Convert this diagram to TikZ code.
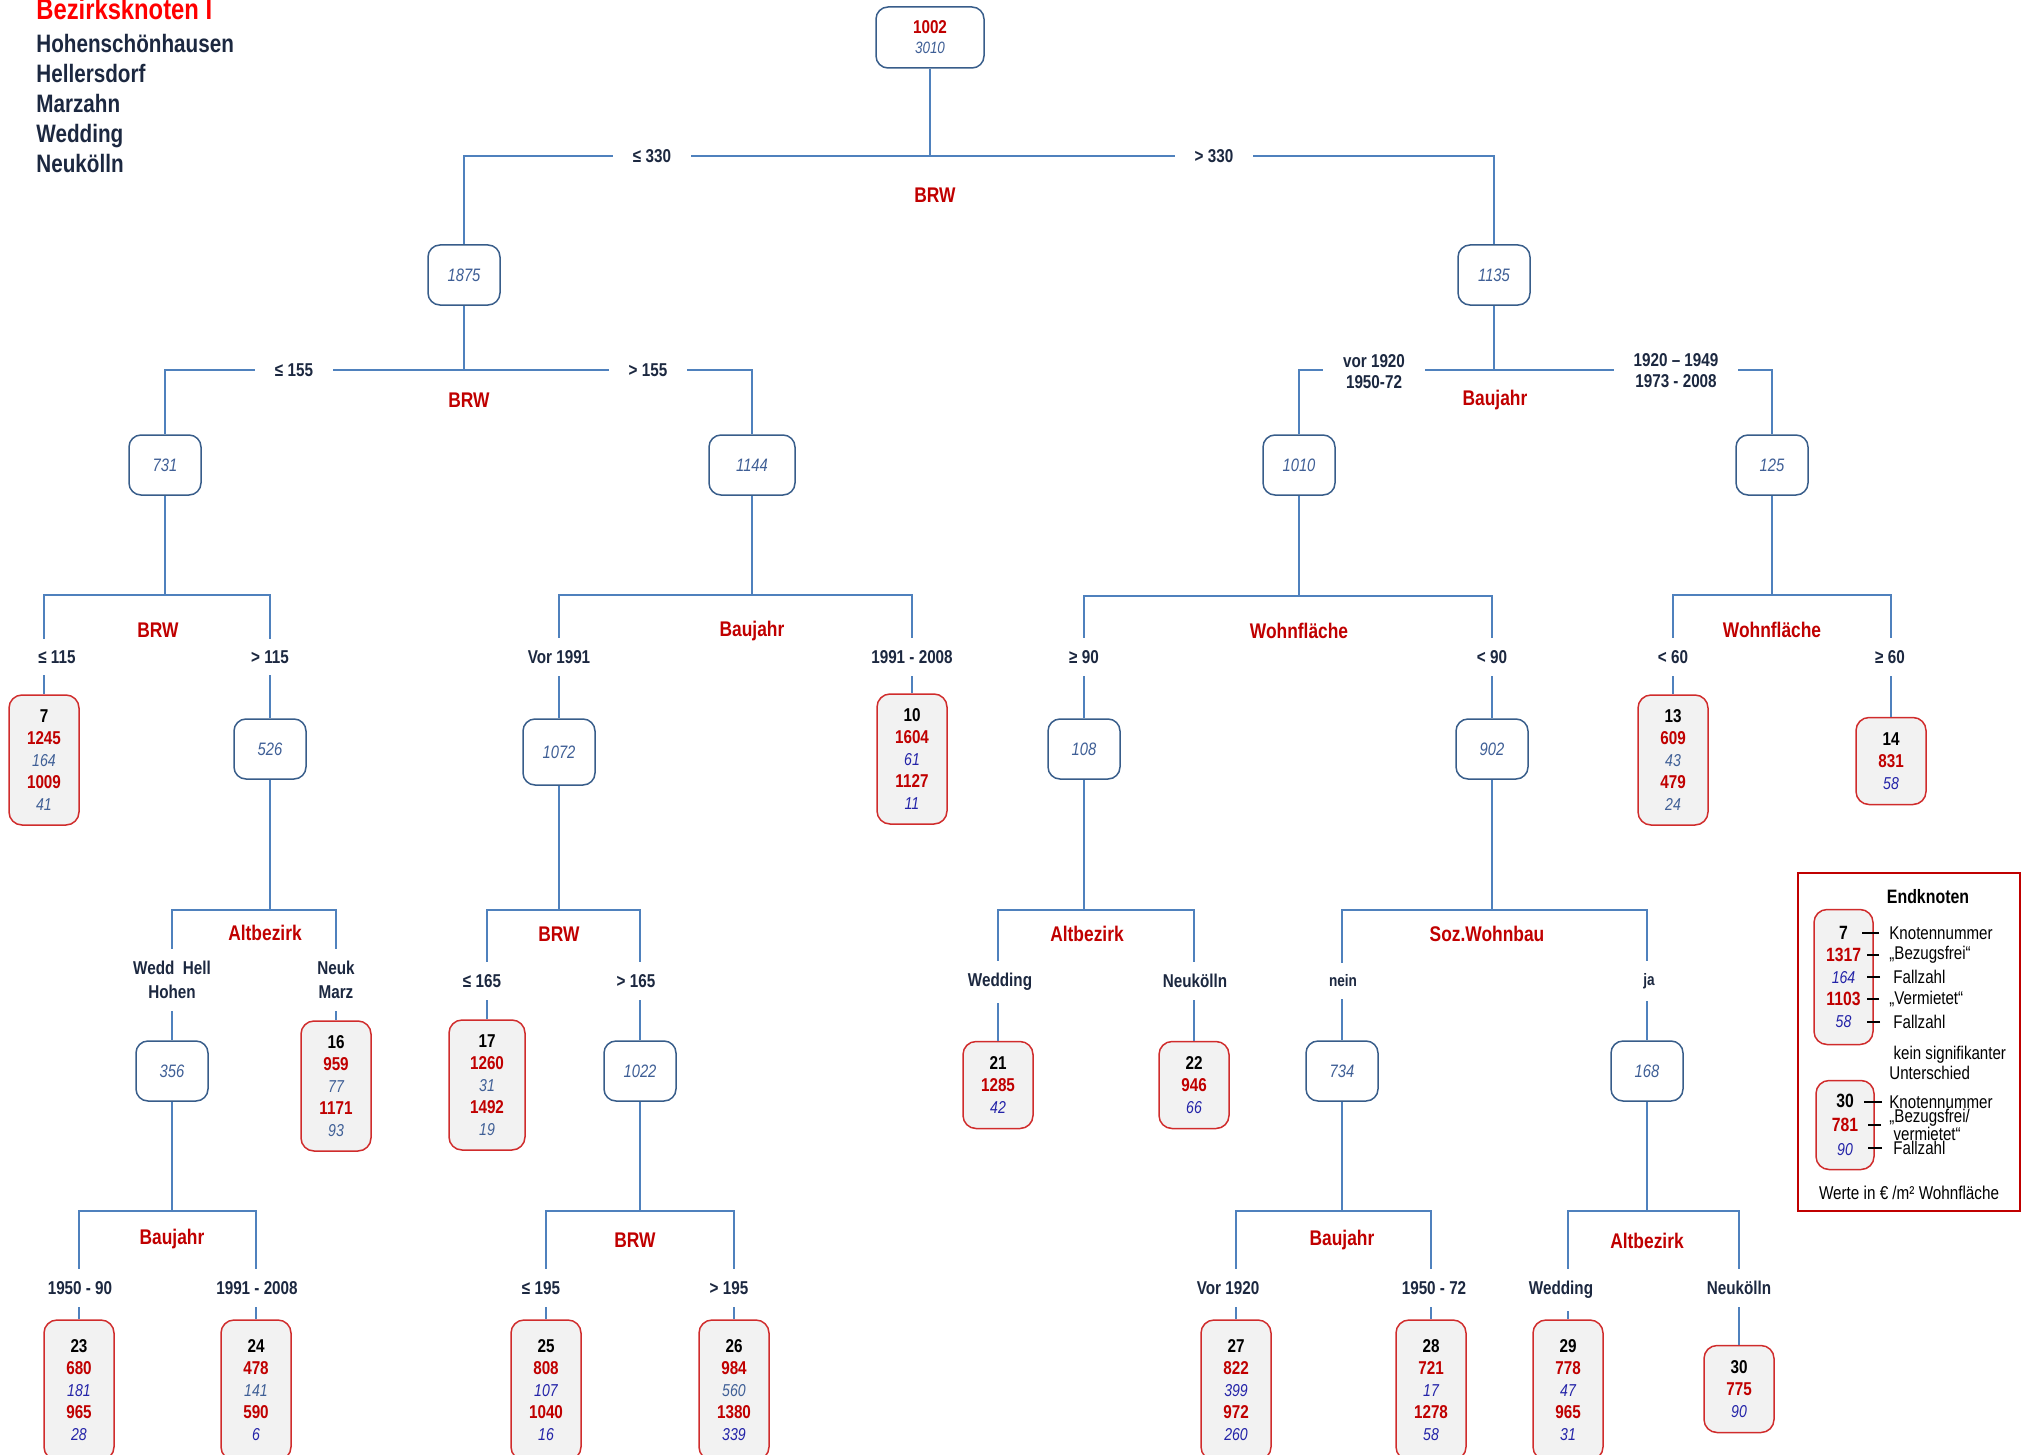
\documentclass[tikz,border=0pt]{standalone}
\usepackage{fontspec}
\setmainfont{Liberation Sans}[FakeStretch=0.82]
\usetikzlibrary{positioning, calc}

\definecolor{linkblue}{HTML}{4F81BD}
\definecolor{boxblue}{HTML}{385D8A}
\definecolor{numsteel}{HTML}{3F5F96}
\definecolor{numblue}{HTML}{2323A8}
\definecolor{valred}{HTML}{C00000}
\definecolor{titlered}{HTML}{FF0000}
\definecolor{labnavy}{HTML}{1C2840}
\definecolor{leafred}{HTML}{D02C2C}
\definecolor{leafgray}{HTML}{F2F2F2}

\newcommand{\knr}[1]{{\color{black}#1}}
\newcommand{\wert}[1]{{\color{valred}\bfseries\upshape #1}}
\newcommand{\fzs}[1]{{\fontsize{8.6}{11}\selectfont\mdseries\itshape\color{numsteel}#1}}
\newcommand{\fzb}[1]{{\fontsize{8.6}{11}\selectfont\mdseries\itshape\color{numblue}#1}}

\begin{document}
\begin{tikzpicture}[x=0.5pt,y=-0.5pt,
    conn/.style={draw=linkblue,line width=1pt},
    elbow/.style={to path={-| (\tikztotarget)}},
    knot/.style={draw=boxblue,line width=0.75pt,rounded corners=6pt,fill=white,
        minimum width=36pt,minimum height=30pt,align=center,text=numsteel,
        font=\fontsize{9}{10}\selectfont\itshape},
    leaf/.style={draw=leafred,line width=0.75pt,rounded corners=6.5pt,fill=leafgray,
        minimum width=35pt,align=center,font=\fontsize{9.3}{11}\selectfont\bfseries},
    leaf5/.style={leaf,minimum height=65pt},
    leaf3/.style={leaf,minimum height=43.5pt},
    cond/.style={fill=white,align=center,inner xsep=10pt,inner ysep=6pt,text=labnavy,
        font=\fontsize{9.3}{11}\selectfont\bfseries},
    attr/.style={text=valred,font=\fontsize{10.6}{12}\selectfont\bfseries},
    keytext/.style={anchor=west,inner sep=0pt,font=\fontsize{9.2}{10}\selectfont},
    tick/.style={draw=black,line width=0.6pt},
    ]
    \useasboundingbox (0,0) rectangle (2033,1455);

    % title
    \node[anchor=base west,inner sep=0pt,text=titlered,font=\fontsize{14.5}{16}\selectfont\bfseries]
        (title) at (36,20) {Bezirksknoten I};
    \node[anchor=north west,inner sep=0pt,align=left,text=labnavy,font=\fontsize{12.6}{15}\selectfont\bfseries]
        (bezirke) at (36,34) {Hohenschönhausen\\Hellersdorf\\Marzahn\\Wedding\\Neukölln};

    % inner nodes
    \node[knot,minimum width=54pt,minimum height=30.5pt] (n1002) at (930,37.5)
        {\wert{\fontsize{9.3}{10}\selectfont 1002}\\{\fontsize{8.2}{10}\selectfont 3010}};
    \node[knot] (n1875) at (464,275) {1875};
    \node[knot] (n1135) at (1494,275) {1135};
    \node[knot] (n731) at (165,465) {731};
    \node[knot,minimum width=43pt] (n1144) at (752,465) {1144};
    \node[knot] (n1010) at (1299,465) {1010};
    \node[knot] (n125) at (1772,465) {125};
    \node[knot] (n526) at (270,749) {526};
    \node[knot,minimum height=33pt] (n1072) at (559,752) {1072};
    \node[knot] (n108) at (1084,749) {108};
    \node[knot] (n902) at (1492,749) {902};
    \node[knot] (n356) at (172,1071) {356};
    \node[knot] (n1022) at (640,1071) {1022};
    \node[knot] (n734) at (1342,1071) {734};
    \node[knot] (n168) at (1647,1071) {168};

    % end nodes
    \node[leaf5] (l7) at (44,760) {\knr{7}\\\wert{1245}\\\fzs{164}\\\wert{1009}\\\fzs{41}};
    \node[leaf5] (l10) at (912,759) {\knr{10}\\\wert{1604}\\\fzb{61}\\\wert{1127}\\\fzb{11}};
    \node[leaf5] (l13) at (1673,760) {\knr{13}\\\wert{609}\\\fzs{43}\\\wert{479}\\\fzs{24}};
    \node[leaf3] (l14) at (1891,761) {\knr{14}\\\wert{831}\\\fzb{58}};
    \node[leaf5] (l16) at (336,1086) {\knr{16}\\\wert{959}\\\fzs{77}\\\wert{1171}\\\fzs{93}};
    \node[leaf5,minimum width=38pt] (l17) at (487,1085) {\knr{17}\\\wert{1260}\\\fzs{31}\\\wert{1492}\\\fzs{19}};
    \node[leaf3] (l21) at (998,1085) {\knr{21}\\\wert{1285}\\\fzb{42}};
    \node[leaf3] (l22) at (1194,1085) {\knr{22}\\\wert{946}\\\fzb{66}};
    \node[leaf5,minimum height=70pt] (l23) at (79,1390) {\knr{23}\\\wert{680}\\\fzb{181}\\\wert{965}\\\fzb{28}};
    \node[leaf5,minimum height=70pt] (l24) at (256,1390) {\knr{24}\\\wert{478}\\\fzs{141}\\\wert{590}\\\fzb{6}};
    \node[leaf5,minimum height=70pt] (l25) at (546,1390) {\knr{25}\\\wert{808}\\\fzb{107}\\\wert{1040}\\\fzb{16}};
    \node[leaf5,minimum height=70pt] (l26) at (734,1390) {\knr{26}\\\wert{984}\\\fzs{560}\\\wert{1380}\\\fzb{339}};
    \node[leaf5,minimum height=70pt] (l27) at (1236,1390) {\knr{27}\\\wert{822}\\\fzb{399}\\\wert{972}\\\fzb{260}};
    \node[leaf5,minimum height=70pt] (l28) at (1431,1390) {\knr{28}\\\wert{721}\\\fzb{17}\\\wert{1278}\\\fzb{58}};
    \node[leaf5,minimum height=70pt] (l29) at (1568,1390) {\knr{29}\\\wert{778}\\\fzb{47}\\\wert{965}\\\fzb{31}};
    \node[leaf3] (l30) at (1739,1389) {\knr{30}\\\wert{775}\\\fzb{90}};

    % split points
    \coordinate (s0) at (930,156);
    \coordinate (s1) at (464,370);
    \coordinate (s2) at (1494,370);
    \coordinate (s3) at (165,595);
    \coordinate (s4) at (752,595);
    \coordinate (s5) at (1299,596);
    \coordinate (s6) at (1772,595);
    \coordinate (s7) at (270,910);
    \coordinate (s8) at (559,910);
    \coordinate (s9) at (1084,910);
    \coordinate (s10) at (1492,910);
    \coordinate (s11) at (172,1211);
    \coordinate (s12) at (640,1211);
    \coordinate (s13) at (1342,1211);
    \coordinate (s14) at (1647,1211);

    \path[conn]
    (n1002) edge (s0)
    (s0) edge[elbow] (n1875)
    (s0) edge[elbow] (n1135)
    (n1875) edge (s1)
    (s1) edge[elbow] (n731)
    (s1) edge[elbow] (n1144)
    (n1135) edge (s2)
    (s2) edge[elbow] (n1010)
    (s2) edge[elbow] (n125)
    (n731) edge (s3)
    (s3) edge[elbow] (l7)
    (s3) edge[elbow] (n526)
    (n1144) edge (s4)
    (s4) edge[elbow] (n1072)
    (s4) edge[elbow] (l10)
    (n1010) edge (s5)
    (s5) edge[elbow] (n108)
    (s5) edge[elbow] (n902)
    (n125) edge (s6)
    (s6) edge[elbow] (l13)
    (s6) edge[elbow] (l14)
    (n526) edge (s7)
    (s7) edge[elbow] (n356)
    (s7) edge[elbow] (l16)
    (n1072) edge (s8)
    (s8) edge[elbow] (l17)
    (s8) edge[elbow] (n1022)
    (n108) edge (s9)
    (s9) edge[elbow] (l21)
    (s9) edge[elbow] (l22)
    (n902) edge (s10)
    (s10) edge[elbow] (n734)
    (s10) edge[elbow] (n168)
    (n356) edge (s11)
    (s11) edge[elbow] (l23)
    (s11) edge[elbow] (l24)
    (n1022) edge (s12)
    (s12) edge[elbow] (l25)
    (s12) edge[elbow] (l26)
    (n734) edge (s13)
    (s13) edge[elbow] (l27)
    (s13) edge[elbow] (l28)
    (n168) edge (s14)
    (s14) edge[elbow] (l29)
    (s14) edge[elbow] (l30)
    ;

    % split conditions
    \node[cond] (c1a) at (652,156) {≤ 330};
    \node[cond] (c1b) at (1214,156) {> 330};
    \node[cond] (c2a) at (294,370) {≤ 155};
    \node[cond] (c2b) at (648,370) {> 155};
    \node[cond,font=\fontsize{9.3}{10.5}\selectfont\bfseries] (c3a) at (1374,372) {vor 1920\\1950-72};
    \node[cond,font=\fontsize{9.3}{10.5}\selectfont\bfseries] (c3b) at (1676,371) {1920 – 1949\\1973 - 2008};
    \node[cond] (c4a) at (57,657) {≤ 115};
    \node[cond] (c4b) at (270,657) {> 115};
    \node[cond] (c5a) at (559,657) {Vor 1991};
    \node[cond] (c5b) at (912,657) {1991 - 2008};
    \node[cond] (c6a) at (1084,657) {≥ 90};
    \node[cond] (c6b) at (1492,657) {< 90};
    \node[cond] (c7a) at (1673,657) {< 60};
    \node[cond] (c7b) at (1890,657) {≥ 60};
    \node[cond,font=\fontsize{9.3}{12}\selectfont\bfseries] (c8a) at (172,980) {Wedd~~Hell\\Hohen};
    \node[cond,font=\fontsize{9.3}{12}\selectfont\bfseries] (c8b) at (336,980) {Neuk\\Marz};
    \node[cond] (c9a) at (482,981) {≤ 165};
    \node[cond] (c9b) at (636,981) {> 165};
    \node[cond] (c10a) at (1000,982) {Wedding};
    \node[cond] (c10b) at (1195,981) {Neukölln};
    \node[cond,font=\fontsize{8.3}{10}\selectfont\bfseries] (c11a) at (1343,981) {nein};
    \node[cond,font=\fontsize{8.3}{10}\selectfont\bfseries] (c11b) at (1649,981) {ja};
    \node[cond] (c12a) at (80,1288) {1950 - 90};
    \node[cond] (c12b) at (257,1288) {1991 - 2008};
    \node[cond] (c13a) at (541,1288) {≤ 195};
    \node[cond] (c13b) at (729,1288) {> 195};
    \node[cond] (c14a) at (1228,1288) {Vor 1920};
    \node[cond] (c14b) at (1434,1288) {1950 - 72};
    \node[cond] (c15a) at (1561,1290) {Wedding};
    \node[cond] (c15b) at (1739,1288) {Neukölln};

    % split attributes
    \node[attr] (a0) at (935,195) {BRW};
    \node[attr] (a1) at (469,400) {BRW};
    \node[attr] (a2) at (1495,400) {Baujahr};
    \node[attr] (a3) at (158,630) {BRW};
    \node[attr] (a4) at (752,631) {Baujahr};
    \node[attr] (a5) at (1299,631) {Wohnfläche};
    \node[attr] (a6) at (1772,630) {Wohnfläche};
    \node[attr] (a7) at (265,933) {Altbezirk};
    \node[attr] (a8) at (559,934) {BRW};
    \node[attr] (a9) at (1087,934) {Altbezirk};
    \node[attr] (a10) at (1487,934) {Soz.Wohnbau};
    \node[attr] (a11) at (172,1239) {Baujahr};
    \node[attr] (a12) at (635,1240) {BRW};
    \node[attr] (a13) at (1342,1240) {Baujahr};
    \node[attr] (a14) at (1647,1241) {Altbezirk};

    % legend
    \node[draw=valred,line width=1pt,minimum width=111pt,minimum height=169pt] (key) at (1909,1042) {};
    \node[font=\fontsize{9.7}{10}\selectfont\bfseries] (keyhead) at (1928,897) {Endknoten};
    \node[leaf,minimum width=29.5pt,minimum height=67.5pt,font=\fontsize{9.6}{11}\selectfont\bfseries]
        (k7) at (1843.5,977) {\knr{7}\\\wert{1317}\\\fzb{164}\\\wert{1103}\\\fzb{58}};
    \node[leaf,minimum width=29pt,minimum height=44.5pt,font=\fontsize{9.6}{12}\selectfont\bfseries]
        (k30) at (1845,1125) {\knr{30}\\\wert{781}\\\fzb{90}};
    \node[keytext] (t1) at (1889,933) {Knotennummer};
    \node[keytext] (t2) at (1889,955) {„Bezugsfrei“};
    \node[keytext] (t3) at (1893,977) {Fallzahl};
    \node[keytext] (t4) at (1889,999) {„Vermietet“};
    \node[keytext] (t5) at (1893,1022) {Fallzahl};
    \node[keytext,align=left,font=\fontsize{9.2}{9.8}\selectfont] (t6) at (1889,1063) {\ kein signifikanter\\Unterschied};
    \node[keytext] (t7) at (1889,1102) {Knotennummer};
    \node[keytext,align=left,font=\fontsize{9.2}{8.6}\selectfont] (t8) at (1889,1125) {„Bezugsfrei/\\\ vermietet“};
    \node[keytext] (t9) at (1893,1148) {Fallzahl};
    \node[font=\fontsize{9.3}{10}\selectfont] (t10) at (1909,1193) {Werte in € /m² Wohnfläche};
    \draw[tick] ([xshift=-5pt]t1.west) -- +(-17,0);
    \draw[tick] ([xshift=-5pt]t2.west) -- +(-12,0);
    \draw[tick] ([xshift=-6.5pt]t3.west) -- +(-13,0);
    \draw[tick] ([xshift=-5pt]t4.west) -- +(-12,0);
    \draw[tick] ([xshift=-6.5pt]t5.west) -- +(-13,0);
    \draw[tick] ([xshift=-3.5pt]t7.west) -- +(-18,0);
    \draw[tick] ([xshift=-4pt]t8.west) -- +(-13,0);
    \draw[tick] ([xshift=-5.5pt]t9.west) -- +(-14,0);
\end{tikzpicture}
\end{document}
